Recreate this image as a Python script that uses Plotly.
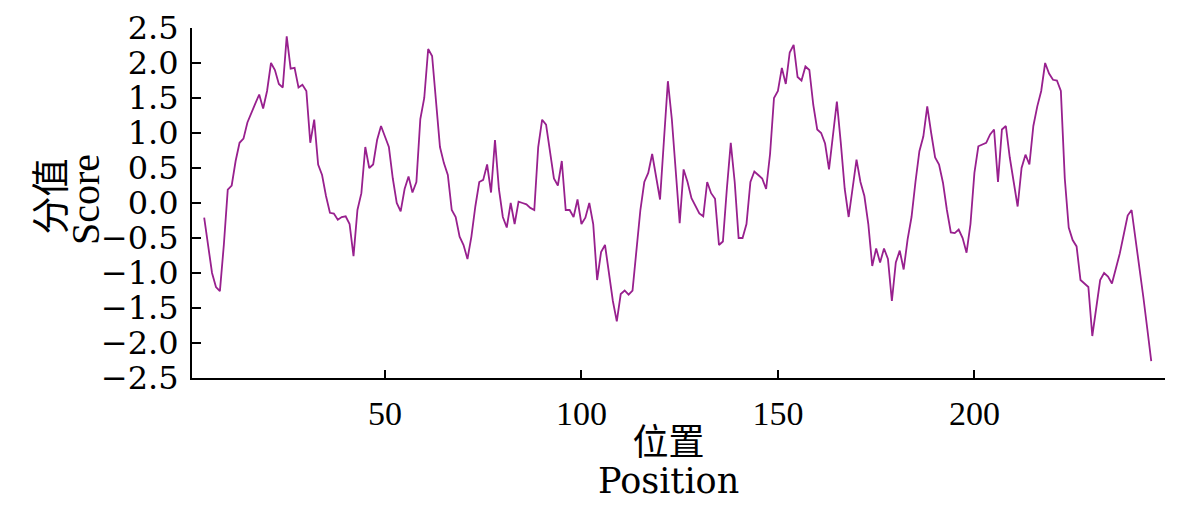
import plotly.graph_objects as go

positions = list(range(4, 246))
scores = [
    -0.21, -0.6, -1.0, -1.2, -1.26, -0.6, 0.19, 0.25, 0.6, 0.86,      # 4-13
    0.92, 1.15, 1.3, 1.42, 1.55, 1.35, 1.6, 2.0, 1.9, 1.7,            # 14-23
    1.65, 2.38, 1.92, 1.93, 1.65, 1.69, 1.6, 0.86, 1.19, 0.55,        # 24-33
    0.4, 0.1, -0.14, -0.15, -0.24, -0.2, -0.19, -0.3, -0.76, -0.1,    # 34-43
    0.14, 0.8, 0.5, 0.55, 0.9, 1.1, 0.95, 0.8, 0.35, 0.0,             # 44-53
    -0.12, 0.2, 0.38, 0.15, 0.3, 1.2, 1.5, 2.2, 2.1, 1.4,             # 54-63
    0.8, 0.57, 0.4, -0.1, -0.2, -0.48, -0.6, -0.8, -0.48, -0.05,      # 64-73
    0.3, 0.33, 0.55, 0.15, 0.9, 0.2, -0.2, -0.35, 0.0, -0.3,          # 74-83
    0.02, 0.0, -0.02, -0.07, -0.1, 0.8, 1.19, 1.12, 0.75, 0.35,       # 84-93
    0.25, 0.6, -0.1, -0.1, -0.2, 0.05, -0.3, -0.21, 0.0, -0.3,        # 94-103
    -1.1, -0.7, -0.6, -1.0, -1.4, -1.69, -1.3, -1.25, -1.31, -1.25,   # 104-113
    -0.7, -0.1, 0.3, 0.43, 0.7, 0.4, 0.05, 0.9, 1.74, 1.2,            # 114-123
    0.4, -0.29, 0.48, 0.3, 0.07, -0.05, -0.15, -0.19, 0.3, 0.14,      # 124-133
    0.06, -0.6, -0.55, 0.2, 0.86, 0.3, -0.5, -0.5, -0.3, 0.3,         # 134-143
    0.45, 0.4, 0.35, 0.2, 0.7, 1.5, 1.6, 1.93, 1.7, 2.15,             # 144-153
    2.26, 1.8, 1.75, 1.95, 1.9, 1.4, 1.05, 1.0, 0.85, 0.48,           # 154-163
    1.0, 1.45, 0.86, 0.2, -0.2, 0.2, 0.62, 0.3, 0.1, -0.3,            # 164-173
    -0.9, -0.65, -0.85, -0.65, -0.8, -1.4, -0.85, -0.68, -0.95, -0.52,  # 174-183
    -0.2, 0.3, 0.74, 0.95, 1.38, 1.0, 0.65, 0.55, 0.29, -0.1,         # 184-193
    -0.42, -0.43, -0.38, -0.5, -0.71, -0.3, 0.43, 0.81, 0.83, 0.86,   # 194-203
    0.98, 1.05, 0.3, 1.05, 1.1, 0.65, 0.3, -0.05, 0.5, 0.69,          # 204-213
    0.55, 1.1, 1.38, 1.6, 2.0, 1.85, 1.76, 1.75, 1.6, 0.35,           # 214-223
    -0.35, -0.53, -0.62, -1.1, -1.15, -1.2, -1.9, -1.5, -1.1, -1.0,   # 224-233
    -1.05, -1.15, -0.95, -0.72, -0.45, -0.18, -0.1, -0.5, -0.9, -1.35,  # 234-243
    -1.8, -2.26,                                                      # 244-245
]

x_ticks = [50, 100, 150, 200]
y_ticks = [-2.5, -2.0, -1.5, -1.0, -0.5, 0.0, 0.5, 1.0, 1.5, 2.0, 2.5]

x_title_cn, x_title_en = "位置", "Position"
y_title_cn, y_title_en = "分值", "Score"

fig = go.Figure()
fig.add_trace(go.Scatter(
    x=positions, y=scores, mode="lines",
    line=dict(color="#98208E", width=1.8),
    showlegend=False, hoverinfo="skip",
))

CJK = "Noto Sans CJK SC"
SERIF = "Liberation Serif"

x_title_text = (
    f"<span style=\"font-family:'{CJK}';font-size:36px\">{x_title_cn}</span><br>"
    f"<span style=\"font-family:'DejaVu Serif';font-size:35px\">{x_title_en}</span>"
)

# page body has an 8px default margin, so the figure is drawn shifted by 8px
fig.update_layout(
    width=1181, height=519, autosize=False,
    margin=dict(l=184, r=24, t=20, b=149, autoexpand=False),
    paper_bgcolor="white", plot_bgcolor="white",
    xaxis=dict(
        range=[0.9, 248.5], tickvals=x_ticks, automargin=False,
        showline=True, linecolor="black", linewidth=2,
        ticks="inside", ticklen=8, tickwidth=2, tickcolor="black",
        showgrid=False, zeroline=False, ticklabelstandoff=4,
        tickfont=dict(family=SERIF, size=34, color="black"),
    ),
    yaxis=dict(
        range=[-2.5, 2.5], tickvals=y_ticks, tickformat=".1f", automargin=False,
        showline=True, linecolor="black", linewidth=2,
        ticks="inside", ticklen=9, tickwidth=2, tickcolor="black",
        showgrid=False, zeroline=False, ticklabelstandoff=5,
        tickfont=dict(family="DejaVu Serif", size=32, color="black"),
    ),
    annotations=[
        dict(text=y_title_cn, xref="paper", yref="paper", x=-0.1485, y=0.517,
             xanchor="center", yanchor="middle", textangle=-90, showarrow=False,
             font=dict(family=CJK, size=38, color="black")),
        dict(text=y_title_en, xref="paper", yref="paper", x=-0.110, y=0.511,
             xanchor="center", yanchor="middle", textangle=-90, showarrow=False,
             font=dict(family=SERIF, size=40, color="black")),
        dict(text=x_title_text, xref="paper", yref="paper", x=0.49, y=-0.225,
             xanchor="center", yanchor="middle", showarrow=False,
             font=dict(family="DejaVu Serif", size=29, color="black")),
    ],
)

fig.write_html("out.html")
